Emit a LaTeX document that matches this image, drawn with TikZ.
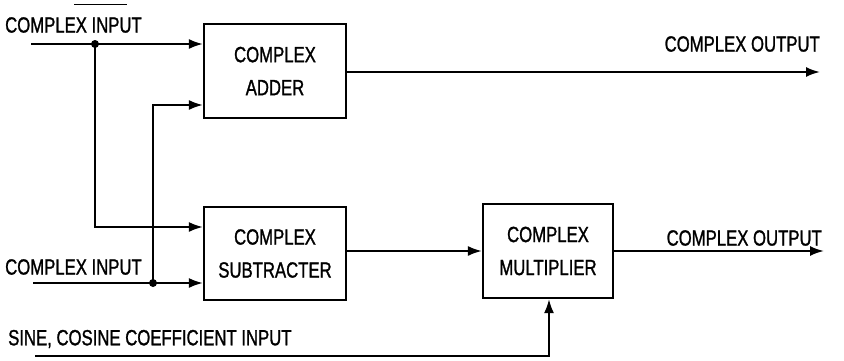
\documentclass[tikz,border=0pt]{standalone}
\usepackage{fontspec}
\setmainfont{Liberation Sans}[FakeStretch=0.76,FakeBold=1.2]
\usetikzlibrary{arrows.meta}
\begin{document}
\begin{tikzpicture}[x=1pt,y=-1pt,
  blk/.style={draw,line width=2.2pt,inner sep=0pt,align=center,font=\fontsize{22}{33}\selectfont},
  lbl/.style={inner sep=0pt,font=\fontsize{22}{25}\selectfont},
  wire/.style={line width=2pt},
  arr/.style={wire,-{Latex[length=14pt,width=10pt]}},
  dotnode/.style={circle,fill,inner sep=0pt,minimum size=8pt}]
\useasboundingbox (0,0) rectangle (844,360);
% blocks
\node[blk,minimum width=142pt,minimum height=94pt] (add) at (275,71) {COMPLEX\\ADDER};
\node[blk,minimum width=142pt,minimum height=93pt] (sub) at (275,253.5) {COMPLEX\\SUBTRACTER};
\node[blk,minimum width=130pt,minimum height=94pt] (mul) at (548,251) {COMPLEX\\MULTIPLIER};
% labels
\node[lbl,anchor=west] (in1) at (5,25) {COMPLEX INPUT};
\node[lbl,anchor=west] (in2) at (5,267) {COMPLEX INPUT};
\node[lbl,anchor=west] (sc) at (8,339) {SINE, COSINE COEFFICIENT INPUT};
\node[lbl,anchor=east] (out1) at (820,44) {COMPLEX OUTPUT};
\node[lbl,anchor=east] (out2) at (822,238) {COMPLEX OUTPUT};
% coordinates
\coordinate (s1) at (31,44);
\coordinate (s2) at (33,283);
\coordinate (s3) at (35,356);
\coordinate (e1) at (820,72);
\coordinate (e2) at (824,251);
\node[dotnode] (d1) at (95,44) {};
\node[dotnode] (d2) at (153,283) {};
\coordinate (bend3) at (549,356);
% stray mark
\coordinate (m1) at (74,4);
\coordinate (m2) at (127,4);
\draw[line width=1pt] (m1) -- (m2);
% wires
\draw[arr] (s1) -- (add.west |- s1);
\draw[arr] (d1.center) |- (sub.west |- 0,227);
\draw[arr] (s2) -- (sub.west |- s2);
\draw[arr] (d2.center) |- (add.west |- 0,105);
\draw[arr] (add.east |- e1) -- (e1);
\draw[arr] (sub.east |- 0,251) -- (mul.west |- 0,251);
\draw[arr] (mul.east |- e2) -- (e2);
\draw[arr] (s3) -- (bend3) -- (mul.south -| bend3);
\end{tikzpicture}
\end{document}
